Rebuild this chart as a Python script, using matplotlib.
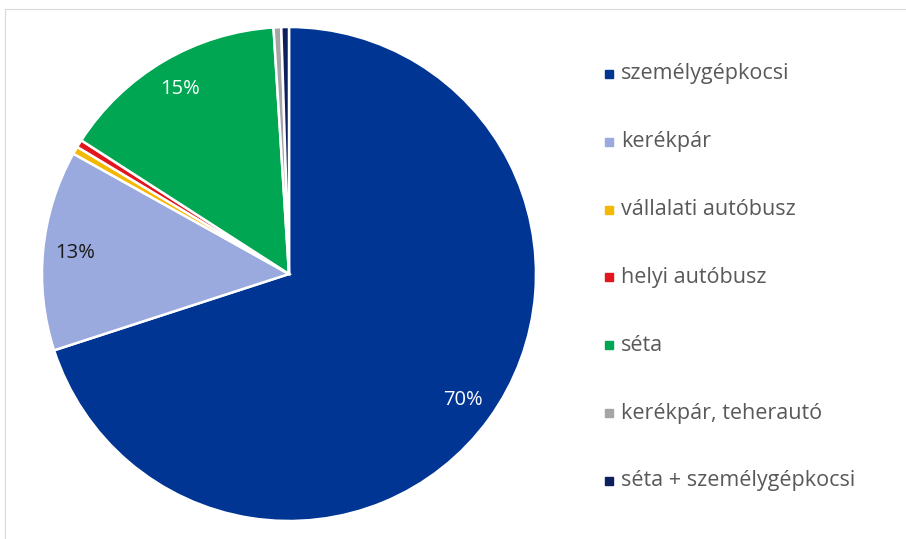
import numpy as np
import matplotlib.pyplot as plt
from matplotlib.patches import Rectangle
from matplotlib.lines import Line2D

labels = ["személygépkocsi", "kerékpár", "vállalati autóbusz", "helyi autóbusz",
          "séta", "kerékpár, teherautó", "séta + személygépkocsi"]
shares = [70.0, 13.1, 0.5, 0.5, 14.9, 0.5, 0.5]
colors = ["#003594", "#9AA9DE", "#F5B800", "#E3161E", "#00A651", "#A5A5A5", "#0C1F5E"]
shown = ["70%", "13%", "", "", "15%", "", ""]
label_colors = ["white", "#1a1a1a", "white", "white", "white", "white", "white"]

W, H = 906, 539
fig = plt.figure(figsize=(W / 100, H / 100), dpi=100)

# faint chart-area frame
fig.add_artist(Line2D([5 / W, 1], [1 - 9 / H, 1 - 9 / H], color="#d9d9d9", lw=0.8))
fig.add_artist(Line2D([5 / W, 5 / W], [0, 1 - 9 / H], color="#d9d9d9", lw=0.8))

r = 247
cx, cy = 289, H - 274
ax = fig.add_axes([(cx - r) / W, (cy - r) / H, 2 * r / W, 2 * r / H])
wedges, _ = ax.pie(shares, colors=colors, startangle=90, counterclock=False,
                   wedgeprops=dict(edgecolor="white", linewidth=1.8))
ax.set_xlim(-1, 1)
ax.set_ylim(-1, 1)
ax.set_aspect("equal")
ax.axis("off")

for w, txt, c in zip(wedges, shown, label_colors):
    mid = np.deg2rad((w.theta1 + w.theta2) / 2)
    if txt:
        ax.text(0.87 * np.cos(mid), 0.87 * np.sin(mid), txt, ha="center", va="center",
                fontsize=14.5, color=c, family="Open Sans")

# legend
y0, dy = 74, 67.8
for i, (lab, col) in enumerate(zip(labels, colors)):
    y = H - (y0 + i * dy)
    fig.add_artist(Rectangle((605 / W, (y - 4) / H), 8 / W, 8 / H, color=col,
                             transform=fig.transFigure))
    fig.text(621 / W, y / H, lab, ha="left", va="center", fontsize=15.5,
             color="#595959", family="Open Sans")

fig.savefig("out.png", dpi=100)
